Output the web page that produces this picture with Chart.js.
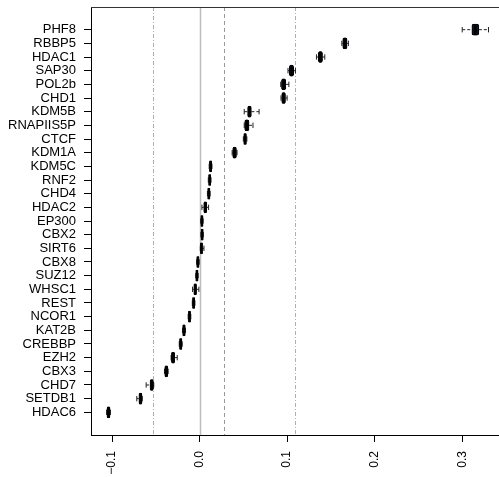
<!DOCTYPE html>
<html>
<head>
<meta charset="utf-8">
<script src="https://cdn.jsdelivr.net/npm/chart.js@4/dist/chart.umd.min.js"></script>
<style>
  html, body { margin: 0; padding: 0; background: #fff; }
  #wrap { width: 499px; height: 477px; }
</style>
</head>
<body>
<div id="wrap"><canvas id="boxChart" width="499" height="477"></canvas></div>
<script>
'use strict';

// categories, top to bottom
const labels = ['PHF8', 'RBBP5', 'HDAC1', 'SAP30', 'POL2b', 'CHD1', 'KDM5B', 'RNAPIIS5P', 'CTCF',
  'KDM1A', 'KDM5C', 'RNF2', 'CHD4', 'HDAC2', 'EP300', 'CBX2', 'SIRT6', 'CBX8', 'SUZ12', 'WHSC1',
  'REST', 'NCOR1', 'KAT2B', 'CREBBP', 'EZH2', 'CBX3', 'CHD7', 'SETDB1', 'HDAC6'];

const medians = [0.315, 0.166, 0.138, 0.105, 0.096, 0.096, 0.057, 0.054, 0.052, 0.040, 0.0126,
  0.0116, 0.0106, 0.0065, 0.0027, 0.0029, 0.0022, -0.0019, -0.003, -0.005, -0.0068, -0.0115,
  -0.0178, -0.0215, -0.0303, -0.038, -0.0546, -0.0675, -0.104];
const q1 = [0.311, 0.1635, 0.1355, 0.1025, 0.0935, 0.0938, 0.0548, 0.0515, 0.0505, 0.0378, 0.0113,
  0.0104, 0.0094, 0.0047, 0.0016, 0.0018, 0.001, -0.0031, -0.0041, -0.0066, -0.008, -0.0127,
  -0.0192, -0.0229, -0.0322, -0.0398, -0.0566, -0.0693, -0.1058];
const q3 = [0.319, 0.1685, 0.1405, 0.1075, 0.0985, 0.0982, 0.0592, 0.0565, 0.0535, 0.0422, 0.0139,
  0.0128, 0.0118, 0.0083, 0.0038, 0.004, 0.0034, -0.0007, -0.0019, -0.0034, -0.0056, -0.0103,
  -0.0164, -0.0201, -0.0284, -0.0362, -0.0526, -0.0657, -0.1022];
const whiskerLow = [0.300, 0.1625, 0.1335, 0.101, 0.0927, 0.093, 0.051, 0.051, 0.050, 0.0372, 0.011,
  0.010, 0.009, 0.0027, 0.0013, 0.0015, 0.0008, -0.0034, -0.0044, -0.008, -0.0083, -0.013,
  -0.0195, -0.0232, -0.0325, -0.0401, -0.061, -0.0717, -0.1062];
const whiskerHigh = [0.330, 0.170, 0.143, 0.1095, 0.102, 0.100, 0.068, 0.061, 0.054, 0.0428, 0.0142,
  0.0131, 0.0121, 0.0103, 0.0041, 0.0043, 0.005, -0.0004, -0.0016, -0.0008, -0.0053, -0.0100,
  -0.0161, -0.0198, -0.0255, -0.0359, -0.0523, -0.0654, -0.1018];

const xTicks = [-0.1, 0.0, 0.1, 0.2, 0.3];
const refValues = [-0.0534, 0.0, 0.0278, 0.1095];

const chartCanvas = document.getElementById('boxChart');
const FONT = "'Liberation Sans', Arial, Helvetica, sans-serif";

// reference lines, whiskers, medians and frame
const boxExtras = {
  id: 'boxExtras',
  beforeDatasetsDraw(chart) {
    const { ctx, chartArea, scales } = chart;
    const styles = [
      { color: '#b0b0b0', dash: [4, 2, 1, 2], width: 1 },
      { color: '#bdbdbd', dash: [], width: 1.5 },
      { color: '#9a9a9a', dash: [4, 3], width: 1 },
      { color: '#b0b0b0', dash: [4, 2, 1, 2], width: 1 },
    ];
    ctx.save();
    refValues.forEach((v, i) => {
      const x = Math.round(scales.x.getPixelForValue(v)) + 0.5;
      ctx.strokeStyle = styles[i].color;
      ctx.lineWidth = styles[i].width;
      ctx.setLineDash(styles[i].dash);
      ctx.beginPath();
      ctx.moveTo(x, chartArea.top);
      ctx.lineTo(x, chartArea.bottom);
      ctx.stroke();
    });
    ctx.restore();

    // whiskers
    ctx.save();
    ctx.strokeStyle = '#222';
    ctx.lineWidth = 1;
    for (let i = 0; i < labels.length; i++) {
      const y = scales.y.getPixelForValue(i);
      const xl = scales.x.getPixelForValue(whiskerLow[i]);
      const xh = scales.x.getPixelForValue(whiskerHigh[i]);
      const b1 = scales.x.getPixelForValue(q1[i]);
      const b3 = scales.x.getPixelForValue(q3[i]);
      ctx.setLineDash([3, 2]);
      ctx.beginPath();
      ctx.moveTo(xl, y); ctx.lineTo(b1, y);
      ctx.moveTo(b3, y); ctx.lineTo(xh, y);
      ctx.stroke();
      ctx.setLineDash([]);
      ctx.beginPath();
      ctx.moveTo(xl, y - 2.7); ctx.lineTo(xl, y + 2.7);
      ctx.moveTo(xh, y - 2.7); ctx.lineTo(xh, y + 2.7);
      ctx.stroke();
    }
    ctx.restore();
  },
  afterDatasetsDraw(chart) {
    const { ctx, chartArea, scales } = chart;
    ctx.save();
    ctx.strokeStyle = '#000';
    ctx.lineWidth = 2.5;
    for (let i = 0; i < labels.length; i++) {
      const y = scales.y.getPixelForValue(i);
      const xm = scales.x.getPixelForValue(medians[i]);
      ctx.beginPath();
      ctx.moveTo(xm, y - 5.5);
      ctx.lineTo(xm, y + 5.5);
      ctx.stroke();
    }
    // top frame line
    ctx.lineWidth = 1;
    ctx.strokeStyle = '#333';
    ctx.beginPath();
    ctx.moveTo(chartArea.left, Math.round(chartArea.top) + 0.5);
    ctx.lineTo(chartArea.right, Math.round(chartArea.top) + 0.5);
    ctx.stroke();
    ctx.restore();
  }
};

new Chart(chartCanvas, {
  type: 'bar',
  data: {
    datasets: [
      {
        label: 'IQR',
        data: labels.map((name, i) => ({ y: i, x: [q1[i], q3[i]] })),
        backgroundColor: '#0d1526',
        borderColor: '#000',
        borderWidth: 1,
        borderSkipped: false,
        borderRadius: 2,
        barThickness: 11,
      },
    ],
  },
  options: {
    indexAxis: 'y',
    responsive: false,
    animation: false,
    events: [],
    layout: { padding: { top: 7, right: 0, left: 0, bottom: 0 } },
    plugins: {
      legend: { display: false },
      tooltip: { enabled: false },
    },
    scales: {
      x: {
        type: 'linear',
        min: -0.124,
        max: 0.342,
        afterBuildTicks: (scale) => { scale.ticks = xTicks.map((v) => ({ value: v })); },
        afterFit: (scale) => {
          scale.height = 42;
          scale.paddingLeft = 0;
          scale.paddingRight = 0;
        },
        grid: { drawOnChartArea: false, drawTicks: true, tickLength: 7, color: '#000', tickWidth: 1 },
        border: { display: true, color: '#000', width: 1 },
        ticks: {
          color: '#000',
          font: { family: FONT, size: 12 },
          maxRotation: 90,
          minRotation: 90,
          padding: 9,
          callback: (v) => v.toFixed(1).replace('-', '\u2212'),
        },
      },
      y: {
        type: 'linear',
        reverse: true,
        offset: false,
        min: -1.66,
        max: 29.66,
        afterBuildTicks: (scale) => { scale.ticks = labels.map((l, i) => ({ value: i })); },
        afterFit: (scale) => {
          scale.width = 91;
          scale.paddingTop = 0;
          scale.paddingBottom = 0;
        },
        grid: { offset: false, drawOnChartArea: false, drawTicks: true, tickLength: 7, color: '#000', tickWidth: 1 },
        border: { display: true, color: '#000', width: 1 },
        ticks: {
          color: '#000',
          font: { family: FONT, size: 13 },
          padding: 8,
          autoSkip: false,
          callback: (v) => labels[v],
        },
      },
    },
  },
  plugins: [boxExtras],
});
</script>
</body>
</html>
